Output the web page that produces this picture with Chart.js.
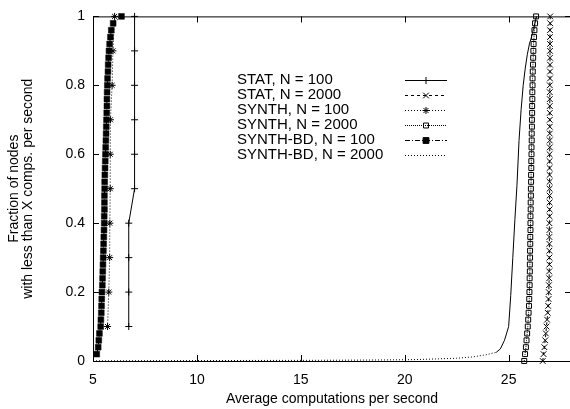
<!DOCTYPE html>
<html>
<head>
<meta charset="utf-8">
<script src="https://cdn.jsdelivr.net/npm/chart.js@4.4.1/dist/chart.umd.min.js"></script>
<style>
  html, body { margin: 0; padding: 0; background: #fff; overflow: hidden; }
  canvas { display: block; }
</style>
</head>
<body>
<canvas id="cdf" width="576" height="409"></canvas>
<script>
// Тики осей
const xTicks = [5, 10, 15, 20, 25];
const yTicks = [0, 0.2, 0.4, 0.6, 0.8, 1];

// Доли узлов (ось Y)
const yTenths = [0.1, 0.2, 0.3, 0.4, 0.5, 0.6, 0.7, 0.8, 0.9, 1.0];
const yFifty = [
  0.02, 0.04, 0.06, 0.08, 0.10, 0.12, 0.14, 0.16, 0.18, 0.20,
  0.22, 0.24, 0.26, 0.28, 0.30, 0.32, 0.34, 0.36, 0.38, 0.40,
  0.42, 0.44, 0.46, 0.48, 0.50, 0.52, 0.54, 0.56, 0.58, 0.60,
  0.62, 0.64, 0.66, 0.68, 0.70, 0.72, 0.74, 0.76, 0.78, 0.80,
  0.82, 0.84, 0.86, 0.88, 0.90, 0.92, 0.94, 0.96, 0.98, 1.00
];
const yFiftyOne = [0, ...yFifty];

// Серии: вычислений в секунду (ось X)
const statN100 = [6.72, 6.72, 6.72, 6.72, 7.0, 7.0, 7.0, 7.0, 7.0, 7.0];
const synthN100 = [5.70, 5.76, 5.80, 5.81, 5.83, 5.83, 5.84, 5.92, 5.96, 6.04];
const synthBdN100 = [
  5.18, 5.25, 5.28, 5.31, 5.37, 5.38, 5.40, 5.41, 5.42, 5.43,
  5.45, 5.46, 5.47, 5.48, 5.49, 5.50, 5.51, 5.52, 5.53, 5.54,
  5.54, 5.55, 5.55, 5.55, 5.56, 5.56, 5.57, 5.58, 5.59, 5.60,
  5.61, 5.62, 5.63, 5.64, 5.65, 5.66, 5.67, 5.67, 5.68, 5.69,
  5.70, 5.72, 5.73, 5.75, 5.77, 5.80, 5.84, 5.88, 5.97, 6.37
];
const statN2000 = [
  26.64,
  26.68, 26.72, 26.76, 26.79, 26.82, 26.85, 26.88, 26.90, 26.92, 26.93,
  26.94, 26.95, 26.95, 26.96, 26.96, 26.96, 26.96, 26.96, 26.96, 26.96,
  26.97, 26.97, 26.97, 26.97, 26.97, 26.97, 26.97, 26.97, 26.97, 26.97,
  26.98, 26.98, 26.98, 26.98, 26.98, 26.98, 26.98, 26.98, 26.98, 26.98,
  26.99, 26.99, 26.99, 26.99, 26.99, 26.99, 26.99, 26.99, 27.00, 27.00
];
const synthN2000 = [
  25.75,
  25.79, 25.83, 25.86, 25.89, 25.92, 25.94, 25.96, 25.98, 25.99, 26.00,
  26.01, 26.01, 26.02, 26.02, 26.03, 26.03, 26.04, 26.04, 26.05, 26.05,
  26.05, 26.06, 26.06, 26.07, 26.07, 26.08, 26.08, 26.09, 26.09, 26.10,
  26.10, 26.11, 26.11, 26.12, 26.12, 26.13, 26.13, 26.14, 26.14, 26.15,
  26.15, 26.16, 26.17, 26.18, 26.19, 26.20, 26.22, 26.24, 26.27, 26.32
];
const synthBdN2000X = [
  5.0, 8.0, 12.0, 16.0, 19.0, 20.5, 21.5, 22.5, 23.3, 23.9,
  24.4, 24.6, 24.8, 25.0, 25.1, 25.2, 25.3, 25.4, 25.5, 25.6,
  25.7, 25.8, 25.9, 26.0, 26.1, 26.2, 26.3, 26.35
];
const synthBdN2000Y = [
  0.0005, 0.001, 0.0015, 0.002, 0.003, 0.004, 0.006, 0.008, 0.012, 0.018,
  0.025, 0.035, 0.06, 0.10, 0.19, 0.30, 0.41, 0.51, 0.64, 0.73,
  0.80, 0.85, 0.89, 0.92, 0.94, 0.965, 0.99, 1.0
];

const FONT = 'Liberation Sans, Arial, Helvetica, sans-serif';
const zip = (xs, ys) => xs.map((x, i) => ({ x, y: ys[i] }));

const base = {
  borderColor: '#000',
  borderWidth: 1,
  pointBorderColor: '#000',
  pointBorderWidth: 1,
  pointHoverRadius: 0,
  clip: false,
  fill: false,
  tension: 0
};

const datasets = [
  { ...base, label: 'STAT, N = 100', data: zip(statN100, yTenths),
    pointStyle: 'cross', pointRadius: 3.5, borderDash: [] },
  { ...base, label: 'STAT, N = 2000', data: zip(statN2000, yFiftyOne),
    pointStyle: 'crossRot', pointRadius: 4, borderDash: [3, 3] },
  { ...base, label: 'SYNTH, N = 100', data: zip(synthN100, yTenths),
    pointStyle: 'star', pointRadius: 3.5, borderDash: [1, 2] },
  { ...base, label: 'SYNTH, N = 2000', data: zip(synthN2000, yFiftyOne),
    pointStyle: 'rect', pointRadius: 3.5, pointBackgroundColor: 'rgba(0,0,0,0)',
    borderDash: [1, 1] },
  { ...base, label: 'SYNTH-BD, N = 100', data: zip(synthBdN100, yFifty),
    pointStyle: 'rect', pointRadius: 4.1, pointBackgroundColor: '#000',
    pointBorderWidth: 0.5, borderDash: [5, 2, 1, 2] },
  { ...base, label: 'SYNTH-BD, N = 2000', data: zip(synthBdN2000X, synthBdN2000Y),
    pointRadius: 0, borderDash: [], legendDash: [1, 2],
    segment: { borderDash: c => (c.p1.parsed.y < 0.03 ? [1, 2] : []) } }
];

// Рамка и тики внутрь (как в gnuplot)
const framePlugin = {
  id: 'frame',
  afterDraw(chart) {
    const { ctx, chartArea: a, scales } = chart;
    ctx.save();
    ctx.strokeStyle = '#000';
    ctx.lineWidth = 1;
    ctx.setLineDash([]);
    ctx.beginPath();
    ctx.moveTo(a.left + 0.5, a.top + 0.5);
    ctx.lineTo(a.right + 0.5, a.top + 0.5);
    ctx.lineTo(a.right + 0.5, a.bottom + 0.5);
    ctx.lineTo(a.left + 0.5, a.bottom + 0.5);
    ctx.closePath();
    const len = 6;
    xTicks.forEach(v => {
      const x = Math.round(scales.x.getPixelForValue(v)) + 0.5;
      ctx.moveTo(x, a.bottom); ctx.lineTo(x, a.bottom - len);
      ctx.moveTo(x, a.top); ctx.lineTo(x, a.top + len);
    });
    yTicks.forEach(v => {
      const y = Math.round(scales.y.getPixelForValue(v)) + 0.5;
      ctx.moveTo(a.left, y); ctx.lineTo(a.left + len, y);
      ctx.moveTo(a.right, y); ctx.lineTo(a.right - len, y);
    });
    ctx.stroke();
    ctx.restore();
  }
};

// Легенда: подпись слева, образец линии справа
const keyPlugin = {
  id: 'key',
  afterDraw(chart) {
    const { ctx } = chart;
    const textX = 237, x0 = 405, x1 = 447, top = 80, step = 15;
    ctx.save();
    chart.data.datasets.forEach((ds, i) => {
      const y = top + i * step;
      ctx.fillStyle = '#000';
      ctx.font = '15px ' + FONT;
      ctx.textAlign = 'left';
      ctx.textBaseline = 'middle';
      ctx.fillText(ds.label, textX, y);

      ctx.strokeStyle = '#000';
      ctx.lineWidth = 1;
      ctx.setLineDash(ds.legendDash || ds.borderDash || []);
      ctx.beginPath();
      ctx.moveTo(x0, y + 0.5);
      ctx.lineTo(x1, y + 0.5);
      ctx.stroke();
      ctx.setLineDash([]);

      if (ds.pointRadius > 0) {
        ctx.fillStyle = ds.pointBackgroundColor || '#000';
        ctx.strokeStyle = '#000';
        Chart.helpers.drawPoint(ctx, {
          pointStyle: ds.pointStyle,
          radius: ds.pointRadius,
          rotation: 0,
          borderWidth: 1
        }, (x0 + x1) / 2, y + 0.5);
      }
    });
    ctx.restore();
  }
};

Chart.defaults.font.family = FONT;
Chart.defaults.font.size = 14;
Chart.defaults.color = '#000';

new Chart(document.getElementById('cdf'), {
  type: 'line',
  data: { datasets },
  options: {
    responsive: false,
    animation: false,
    devicePixelRatio: 1,
    layout: { padding: { top: 10, right: 0, left: 0, bottom: 0 } },
    plugins: {
      legend: { display: false },
      tooltip: { enabled: false }
    },
    scales: {
      x: {
        type: 'linear',
        min: 5,
        max: 28,
        grid: { display: false, drawTicks: false },
        border: { display: false },
        afterBuildTicks: s => { s.ticks = xTicks.map(value => ({ value })); },
        afterFit: s => { s.height = 48; },
        ticks: { padding: 11, maxRotation: 0, font: { size: 14 } },
        title: {
          display: true,
          text: 'Average computations per second',
          font: { size: 14 },
          padding: { top: 0, bottom: 1 }
        }
      },
      y: {
        type: 'linear',
        min: 0,
        max: 1,
        grid: { display: false, drawTicks: false },
        border: { display: false },
        afterBuildTicks: s => { s.ticks = yTicks.map(value => ({ value })); },
        afterFit: s => { s.width = 93; },
        ticks: { padding: 8, font: { size: 14 }, callback: v => String(v) },
        title: {
          display: true,
          text: ['Fraction of nodes', 'with less than X comps. per second'],
          font: { size: 14, lineHeight: 1.0 },
          padding: { top: 7, bottom: 0 }
        }
      }
    }
  },
  plugins: [framePlugin, keyPlugin]
});
</script>
</body>
</html>
